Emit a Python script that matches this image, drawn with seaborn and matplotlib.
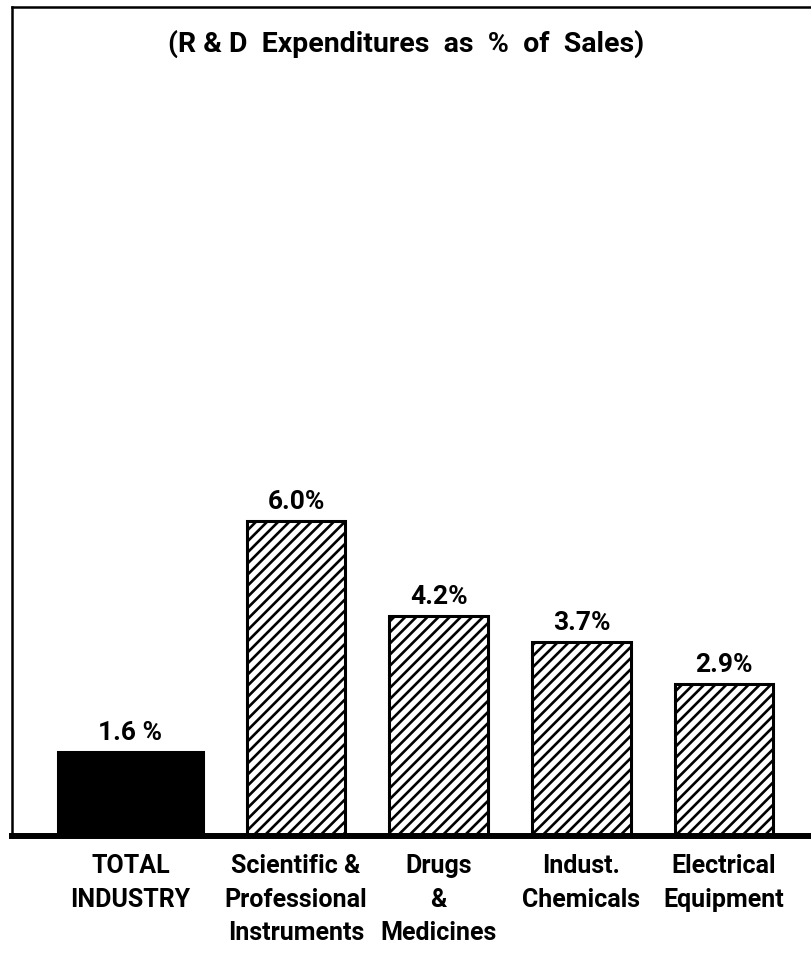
import numpy as np
import pandas as pd
import matplotlib.pyplot as plt
import seaborn as sns

# R&D expenditures as % of sales, by industry
industries = ["TOTAL\nINDUSTRY",
              "Scientific &\nProfessional\nInstruments",
              "Drugs\n&\nMedicines",
              "Indust.\nChemicals",
              "Electrical\nEquipment"]
rd_pct = [1.6, 6.0, 4.2, 3.7, 2.9]
value_labels = ["1.6 %", "6.0%", "4.2%", "3.7%", "2.9%"]

df = pd.DataFrame({"industry": industries, "pct": rd_pct})

sns.set_theme(style="white", rc={"text.color": "black", "xtick.color": "black",
                                 "axes.labelcolor": "black"})
plt.rcParams["font.family"] = ["Roboto", "DejaVu Sans"]
plt.rcParams["hatch.linewidth"] = 1.9
plt.rcParams["hatch.color"] = "black"

W, H = 812, 955
fig = plt.figure(figsize=(W / 100, H / 100), dpi=100)
# axes box: left edge at 12px, baseline at 836px, top at 7px, runs off the right side
ax = fig.add_axes([12 / W, (H - 836) / H, (816 - 12) / W, (836 - 7) / H])

sns.barplot(data=df, x="industry", y="pct", color="white", width=0.69,
            edgecolor="black", linewidth=2.2, saturation=1, ax=ax)

# the "total" bar is solid and wider, the rest are hatched
bars = ax.patches
bars[0].set_facecolor("black")
bars[0].set_width(1.02)
bars[0].set_x(-0.67)
for b in bars[1:]:
    b.set_hatch("///")

ax.set_xlim(-0.99, 4.644)
ax.set_ylim(0, 15.8)

ax.bar_label(ax.containers[0], labels=value_labels, padding=5,
             fontsize=19, fontweight="bold", color="black")

ax.set_xticks([b.get_x() + b.get_width() / 2 for b in bars])
ax.set_xticklabels(industries, fontsize=18, fontweight="bold", color="black",
                   linespacing=1.5, multialignment="center")
ax.tick_params(axis="x", length=0, pad=13)
ax.set_yticks([])
ax.set_xlabel("")
ax.set_ylabel("")

for side in ["left", "top"]:
    ax.spines[side].set_linewidth(1.8)
    ax.spines[side].set_color("black")
ax.spines["bottom"].set_linewidth(4.3)
ax.spines["bottom"].set_color("black")
ax.spines["right"].set_visible(False)

fig.text(0.5, 1 - 44 / H, "(R & D  Expenditures  as  %  of  Sales)",
         ha="center", va="center", fontsize=20.5, fontweight="bold", color="black")

fig.savefig("out.png", dpi=100, facecolor="white")
